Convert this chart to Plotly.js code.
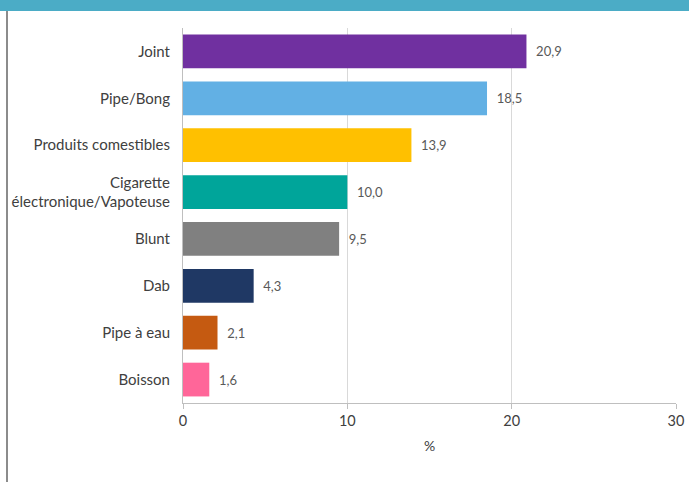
<!DOCTYPE html>
<html>
<head>
<meta charset="utf-8">
<script src="https://cdn.plot.ly/plotly-3.0.1.min.js"></script>
<style>
  html, body { margin: 0; padding: 0; background: #ffffff; }
  #wrap { position: relative; width: 689px; height: 482px; overflow: hidden; }
  #chart { position: absolute; left: 0; top: 0; width: 689px; height: 482px; }
  #band { position: absolute; left: 0; top: 0; width: 689px; height: 11px; background: #4BACC6; }
  #lborder { position: absolute; left: 6px; top: 11px; width: 2px; height: 471px; background: #8c8c8c; }
</style>
</head>
<body>
<div id="wrap">
  <div id="chart"></div>
  <div id="band"></div>
  <div id="lborder"></div>
</div>
<script>
const categories = ["Joint", "Pipe/Bong", "Produits comestibles", "Cigarette<br>électronique/Vapoteuse", "Blunt", "Dab", "Pipe à eau", "Boisson"];
const values = [20.9, 18.5, 13.9, 10.0, 9.5, 4.3, 2.1, 1.6];
const barColors = ["#7030A0", "#62B0E4", "#FFC000", "#00A59A", "#808080", "#1F3864", "#C55A11", "#FF6699"];
const xTickValues = [0, 10, 20, 30];
const xTitle = "%";

const labels = values.map(v => "  " + v.toFixed(1).replace(".", ","));

const trace = {
  type: "bar",
  orientation: "h",
  y: categories,
  x: values,
  marker: { color: barColors, line: { width: 0 } },
  text: labels,
  textposition: "outside",
  cliponaxis: false,
  textfont: { family: "Lato, 'Open Sans', sans-serif", size: 13, color: "#595959" },
  hoverinfo: "none"
};

const layout = {
  width: 689,
  height: 482,
  margin: { l: 183, r: 12.5, t: 27.5, b: 78.5 },
  paper_bgcolor: "#ffffff",
  plot_bgcolor: "#ffffff",
  showlegend: false,
  bargap: 0.28,
  font: { family: "Lato, 'Open Sans', sans-serif", color: "#404040" },
  xaxis: {
    range: [0, 30],
    tickvals: xTickValues,
    ticktext: xTickValues.map(String),
    showgrid: true,
    gridcolor: "#d9d9d9",
    gridwidth: 1,
    zeroline: false,
    showline: true,
    linecolor: "#bfbfbf",
    linewidth: 1,
    ticks: "outside",
    ticklen: 5,
    tickcolor: "#bfbfbf",
    tickfont: { size: 14.5, color: "#404040" },
    title: { text: xTitle, font: { size: 14, color: "#404040" }, standoff: 12 },
    fixedrange: true
  },
  yaxis: {
    autorange: "reversed",
    showline: true,
    linecolor: "#bfbfbf",
    linewidth: 1,
    showgrid: false,
    ticks: "",
    ticklabelstandoff: 9,
    tickfont: { size: 15, color: "#404040" },
    fixedrange: true
  }
};

Plotly.newPlot("chart", [trace], layout, { displayModeBar: false, staticPlot: true });
</script>
</body>
</html>
